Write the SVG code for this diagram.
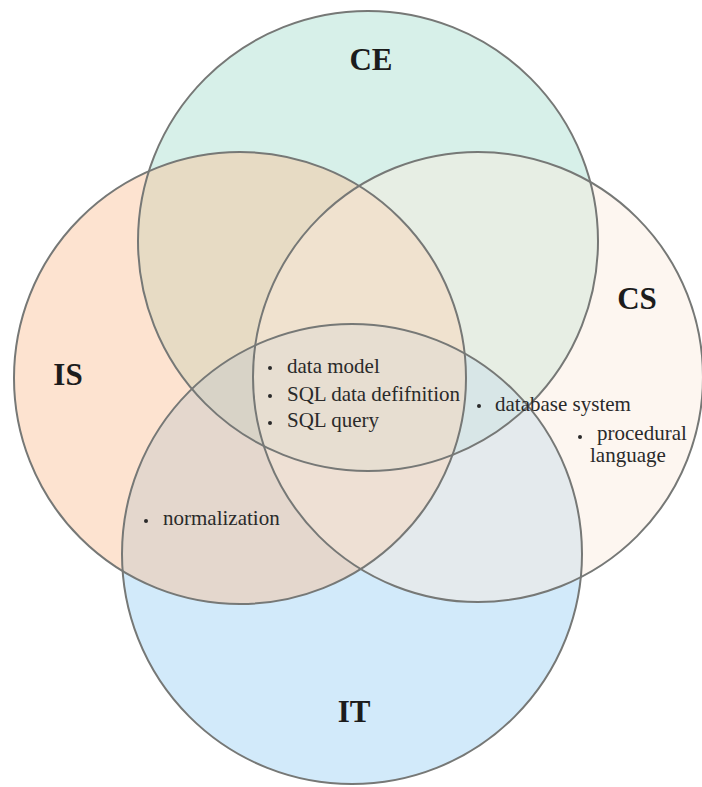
<svg xmlns="http://www.w3.org/2000/svg" width="702" height="787" viewBox="0 0 702 787">
<style>
.fill{fill-opacity:0.45;stroke:none}
.ring{fill:none;stroke:#767876;stroke-width:2}
.lbl{font-family:"Liberation Serif","Times New Roman",serif;font-weight:bold;font-size:31px;fill:#1c1c1c;text-anchor:middle}
.item{font-family:"Liberation Serif","Times New Roman",serif;font-size:21px;fill:#2a2a2a}
.dot{fill:#2a2a2a}
</style>
<rect width="702" height="787" fill="#ffffff"/>
<g id="fills">
<circle class="fill" cx="368" cy="241" r="230" fill="#a7dece"/>
<circle class="fill" cx="352" cy="554" r="230" fill="#9cd1f4"/>
<circle class="fill" cx="240" cy="378" r="226" fill="#fbc197"/>
<circle class="fill" cx="478" cy="377" r="225" fill="#fbebde"/>
</g>
<g id="CE"><circle class="ring" cx="368" cy="241" r="230"/><text class="lbl" x="371" y="70">CE</text></g>
<g id="IT"><circle class="ring" cx="352" cy="554" r="230"/><text class="lbl" x="354" y="722">IT</text></g>
<g id="IS"><circle class="ring" cx="240" cy="378" r="226"/><text class="lbl" x="68" y="385">IS</text></g>
<g id="CS"><circle class="ring" cx="478" cy="377" r="225"/><text class="lbl" x="637" y="309">CS</text></g>
<g id="items">
<circle class="dot" cx="270" cy="368" r="2"/><text class="item" x="287" y="373">data model</text>
<circle class="dot" cx="270" cy="396" r="2"/><text class="item" x="287" y="401">SQL data defifnition</text>
<circle class="dot" cx="270" cy="423" r="2"/><text class="item" x="287" y="427">SQL query</text>
<circle class="dot" cx="479" cy="406" r="2"/><text class="item" x="495" y="411">database system</text>
<circle class="dot" cx="580" cy="437" r="2"/><text class="item" x="597" y="440">procedural</text>
<text class="item" x="590" y="462">language</text>
<circle class="dot" cx="146" cy="521" r="2"/><text class="item" x="163" y="525">normalization</text>
</g>
</svg>
